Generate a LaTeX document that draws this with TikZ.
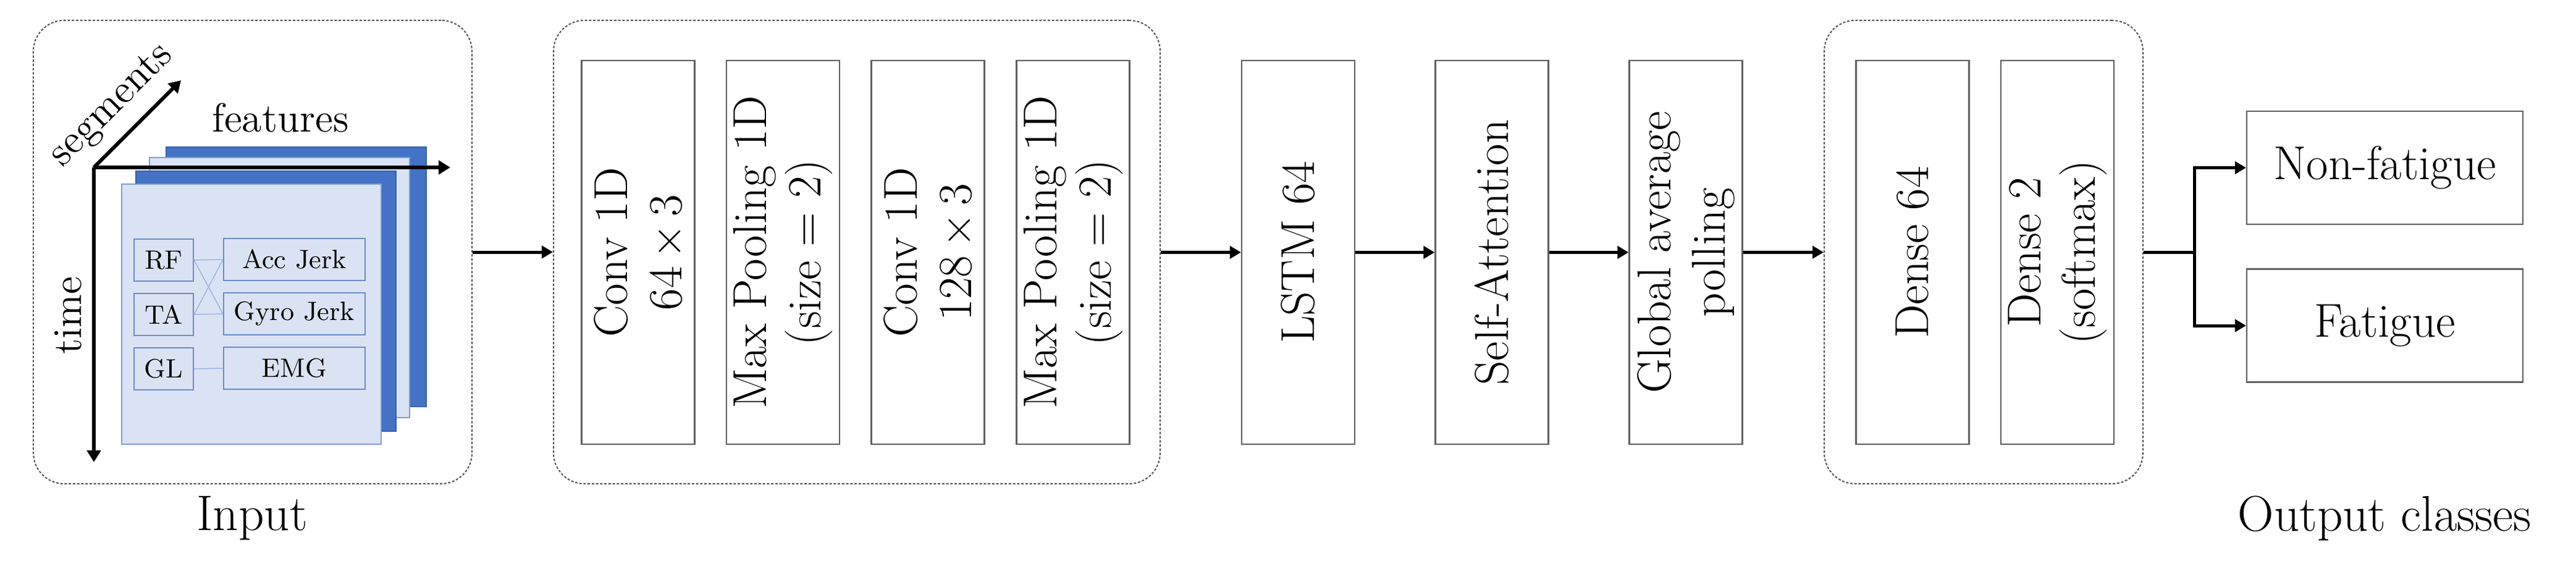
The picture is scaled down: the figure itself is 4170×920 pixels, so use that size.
\documentclass[tikz,border=0pt]{standalone}
\usetikzlibrary{arrows.meta}
\definecolor{boxgray}{HTML}{606060}
\definecolor{dashgray}{HTML}{555555}
\definecolor{darkblue}{HTML}{4472C4}
\definecolor{darkblueedge}{HTML}{3A62AC}
\definecolor{lightblue}{HTML}{DAE3F3}
\definecolor{lightedge}{HTML}{7F9FD3}
\definecolor{inneredge}{HTML}{6A8BC8}
\definecolor{linkblue}{HTML}{9DB5E0}
\tikzset{
  layer/.style={draw=boxgray, line width=0.45pt, fill=white, inner sep=0pt,
    rotate=90, minimum width=124.2pt, minimum height=36.6pt, align=center,
    font=\fontsize{15.4}{17.6}\selectfont},
  classbox/.style={draw=boxgray, line width=0.45pt, fill=white, inner sep=0pt,
    minimum width=89.4pt, minimum height=36.6pt,
    font=\fontsize{15.4}{17.6}\selectfont},
  grp/.style={draw=dashgray, line width=0.4pt, dash pattern=on 0.8pt off 0.55pt,
    rounded corners=10pt, inner sep=0pt, minimum height=150pt},
  arr/.style={line width=1pt, -{Triangle[length=3.6pt,width=4pt]}},
  axis/.style={line width=1.2pt, -{Triangle[length=3.8pt,width=4.4pt]}},
  darkpanel/.style={fill=darkblue, draw=darkblueedge, line width=0.3pt},
  lightpanel/.style={fill=lightblue, draw=lightedge, line width=0.4pt},
  feat/.style={draw=inneredge, line width=0.45pt, inner sep=0pt,
    minimum height=13.6pt, font=\fontsize{8.6}{9}\selectfont},
  featS/.style={feat, minimum width=19.2pt},
  featL/.style={feat, minimum width=45.8pt},
  link/.style={draw=linkblue, line width=0.3pt},
  axlabel/.style={font=\fontsize{13.2}{14}\selectfont, inner sep=0pt},
  biglabel/.style={font=\fontsize{16.2}{18}\selectfont, inner sep=0pt}
}
\begin{document}
\begin{tikzpicture}[x=0.2pt,y=-0.2pt]
\useasboundingbox (0,0) rectangle (4170,920);

% ---------- input group ----------
\node[grp, minimum width=142pt] (inbox) at (409,408) {};
\node[biglabel] (inlabel) at (408,839) {Input};

% stacked panels
\draw[darkpanel]  (269,238) rectangle (690,658);
\draw[lightpanel] (242,255) rectangle (663,676);
\draw[darkpanel]  (220,277) rectangle (641,698);
\draw[lightpanel] (197,298) rectangle (617,719);

% feature boxes
\node[featS] (rf)  at (265,421) {RF};
\node[featS] (ta)  at (265,509) {TA};
\node[featS] (gl)  at (265,597) {GL};
\node[featL] (acc) at (476.5,420) {Acc Jerk};
\node[featL] (gyr) at (476.5,508) {Gyro Jerk};
\node[featL] (emg) at (476.5,596) {EMG};
\draw[link] (rf.east) -- (acc.west);
\draw[link] (rf.east) -- (gyr.west);
\draw[link] (ta.east) -- (acc.west);
\draw[link] (ta.east) -- (gyr.west);
\draw[link] (gl.east) -- (emg.west);

% axes
\coordinate (org) at (152,271);
\coordinate (tend) at (152,748);
\coordinate (fend) at (729,271);
\coordinate (send) at (293,130);
\draw[axis] (org) -- (tend);
\draw[axis] (org) -- (fend);
\draw[axis] (org) -- (send);
\node[axlabel, rotate=45] (seglbl) at (182,172) {segments};
\node[axlabel] (featlbl) at (454,191) {features};
\node[axlabel, rotate=90] (timelbl) at (110,511) {time};

% ---------- CNN group ----------
\node[grp, minimum width=196.4pt] (midbox) at (1387,408) {};
\node[layer] (c1) at (1033,408.5) {Conv 1D\\64\,\texttimes\,3};
\node[layer] (p1) at (1267.5,408.5) {Max Pooling 1D\\(size = 2)};
\node[layer] (c2) at (1502,408.5) {Conv 1D\\128\,\texttimes\,3};
\node[layer] (p2) at (1737,408.5) {Max Pooling 1D\\(size = 2)};

% ---------- sequence layers ----------
\node[layer] (lstm) at (2101.5,408.5) {LSTM 64};
\node[layer] (att)  at (2415,408.5) {Self-Attention};
\node[layer] (gap)  at (2729,408.5) {Global average\\polling};

% ---------- dense group ----------
\node[grp, minimum width=103.2pt] (densebox) at (3211,408) {};
\node[layer] (d64) at (3096,408.5) {Dense 64};
\node[layer] (d2)  at (3330.5,408.5) {Dense 2\\(softmax)};

% ---------- outputs ----------
\node[classbox] (nonf) at (3860.5,271.5) {Non-fatigue};
\node[classbox] (fat)  at (3860.5,527) {Fatigue};
\node[biglabel] (outlabel) at (3860,839) {Output classes};

% ---------- connectors ----------
\draw[arr] (inbox) -- (midbox);
\draw[arr] (midbox) -- (lstm);
\draw[arr] (lstm) -- (att);
\draw[arr] (att) -- (gap);
\draw[arr] (gap) -- (densebox);
\coordinate (br) at (3552,408);
\draw[line width=1pt] (densebox.east) -- (br);
\draw[arr] (br) |- (nonf.west);
\draw[arr] (br) |- (fat.west);
\end{tikzpicture}
\end{document}
